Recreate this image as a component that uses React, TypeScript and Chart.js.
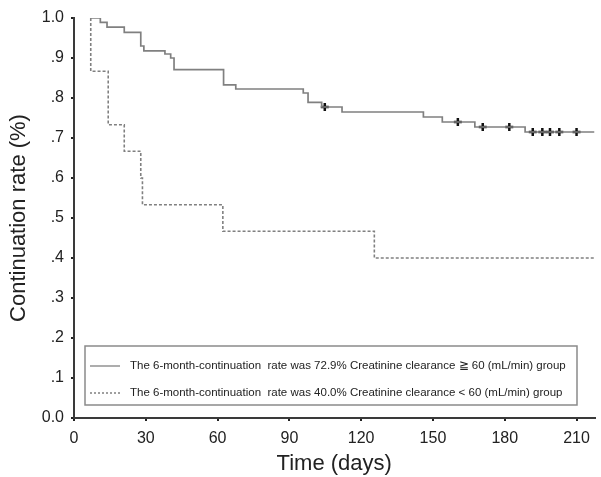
import React, { useEffect, useRef } from "react";
import { Chart, registerables } from "chart.js";

Chart.register(...registerables);

// ---- Data ----
const solidTimes = [7, 11, 13.8, 21, 27.9, 29.2, 38, 40.4, 41.8, 62.5, 67.6, 95.8, 97.8, 103.5, 112, 146, 153.9, 167.5, 188.5, 217.5];
const solidValues = [1.0, 0.989, 0.977, 0.964, 0.93, 0.918, 0.91, 0.9, 0.871, 0.833, 0.8225, 0.8125, 0.789, 0.7775, 0.765, 0.7525, 0.74, 0.7275, 0.715, 0.715];

const dashedTimes = [7, 7, 14.3, 21, 27.9, 28.6, 62.2, 125.5, 217.5];
const dashedValues = [1.0, 0.867, 0.733, 0.667, 0.6, 0.533, 0.467, 0.4, 0.4];

const censorTimes = [104.8, 160.4, 170.8, 181.9, 191.7, 195.7, 198.9, 202.8, 210];
const censorValues = [0.7775, 0.74, 0.7275, 0.7275, 0.715, 0.715, 0.715, 0.715, 0.715];

const xTickValues = [0, 30, 60, 90, 120, 150, 180, 210];
const yTickLabels = ["0.0", ".1", ".2", ".3", ".4", ".5", ".6", ".7", ".8", ".9", "1.0"];

const legendLabels = [
  "The 6-month-continuation  rate was 72.9% Creatinine clearance \u2267 60 (mL/min) group",
  "The 6-month-continuation  rate was 40.0% Creatinine clearance < 60 (mL/min) group",
];

const FONT = '"Liberation Sans", Arial, Helvetica, sans-serif';
const CURVE_COLOR = "#808080";
const AXIS_COLOR = "#3a3a3a";

const legendBoxPlugin = {
  id: "legendBox",
  afterDatasetsDraw(chart: any) {
    const { ctx } = chart;
    ctx.save();
    const x0 = 85, y0 = 346, w = 492, h = 59;
    ctx.fillStyle = "#ffffff";
    ctx.fillRect(x0, y0, w, h);
    ctx.strokeStyle = "#8a8a8a";
    ctx.lineWidth = 1.5;
    ctx.strokeRect(x0, y0, w, h);
    const rows = [366, 393];
    rows.forEach((yy, i) => {
      ctx.beginPath();
      ctx.strokeStyle = CURVE_COLOR;
      ctx.lineWidth = 1.3;
      ctx.setLineDash(i === 0 ? [] : [2, 2]);
      ctx.moveTo(90, yy);
      ctx.lineTo(120, yy);
      ctx.stroke();
      ctx.setLineDash([]);
      ctx.fillStyle = "#222";
      ctx.font = `11.5px ${FONT}`;
      ctx.textBaseline = "middle";
      ctx.textAlign = "left";
      ctx.fillText(legendLabels[i], 130, yy);
    });
    ctx.restore();
  },
};

export default function App() {
  const canvasRef = useRef<HTMLCanvasElement | null>(null);

  useEffect(() => {
    if (!canvasRef.current) return;
    const solidData = solidTimes.map((t, i) => ({ x: t, y: solidValues[i] }));
    const dashedData = dashedTimes.map((t, i) => ({ x: t, y: dashedValues[i] }));
    const censorData = censorTimes.map((t, i) => ({ x: t, y: censorValues[i] }));

    const chart = new Chart(canvasRef.current, {
      type: "line",
      data: {
        datasets: [
          {
            label: legendLabels[0],
            data: solidData,
            stepped: "before",
            borderColor: CURVE_COLOR,
            borderWidth: 1.7,
            pointRadius: 0,
            fill: false,
          },
          {
            label: legendLabels[1],
            data: dashedData,
            stepped: "before",
            borderColor: CURVE_COLOR,
            borderWidth: 1.6,
            borderDash: [3, 2],
            pointRadius: 0,
            fill: false,
          },
          {
            label: "censored",
            data: censorData,
            showLine: false,
            pointStyle: "cross",
            pointRadius: 4,
            pointBorderWidth: 2.5,
            pointBorderColor: "#111",
            pointBackgroundColor: "#111",
          },
        ],
      },
      options: {
        responsive: false,
        animation: false,
        layout: { padding: { top: 18, right: 3, left: 0, bottom: 0 } },
        plugins: {
          legend: { display: false },
          tooltip: { enabled: false },
        },
        scales: {
          x: {
            type: "linear",
            min: 0,
            max: 217.5,
            afterFit: (scale: any) => {
              scale.height = 59;
            },
            afterBuildTicks: (scale: any) => {
              scale.ticks = xTickValues.map((v) => ({ value: v }));
            },
            ticks: {
              font: { family: FONT, size: 16 },
              color: "#222",
              padding: 8,
              maxRotation: 0,
              callback: (v: any) => String(v),
            },
            grid: {
              drawOnChartArea: false,
              drawTicks: true,
              tickLength: 3,
              color: "#222",
              lineWidth: 2,
            },
            border: { display: true, color: AXIS_COLOR, width: 2 },
            title: {
              display: true,
              text: "Time (days)",
              font: { family: FONT, size: 22 },
              color: "#222",
              padding: { top: 0, bottom: 0 },
            },
          },
          y: {
            type: "linear",
            min: 0,
            max: 1,
            afterFit: (scale: any) => {
              scale.width = 74;
            },
            afterBuildTicks: (scale: any) => {
              scale.ticks = yTickLabels.map((_, i) => ({ value: i / 10 }));
            },
            ticks: {
              font: { family: FONT, size: 16 },
              color: "#222",
              padding: 7,
              callback: (v: any) => yTickLabels[Math.round(Number(v) * 10)],
            },
            grid: {
              drawOnChartArea: false,
              drawTicks: true,
              tickLength: 3,
              color: "#222",
              lineWidth: 2,
            },
            border: { display: true, color: AXIS_COLOR, width: 2 },
            title: {
              display: true,
              text: "Continuation rate (%)",
              font: { family: FONT, size: 22 },
              color: "#222",
              padding: { top: 6, bottom: 0 },
            },
          },
        },
      },
      plugins: [legendBoxPlugin],
    } as any);

    return () => chart.destroy();
  }, []);

  return (
    <div style={{ position: "fixed", left: 0, top: 0, width: 601, height: 477, background: "#fff" }}>
      <canvas ref={canvasRef} width={601} height={477} style={{ display: "block" }} />
    </div>
  );
}
